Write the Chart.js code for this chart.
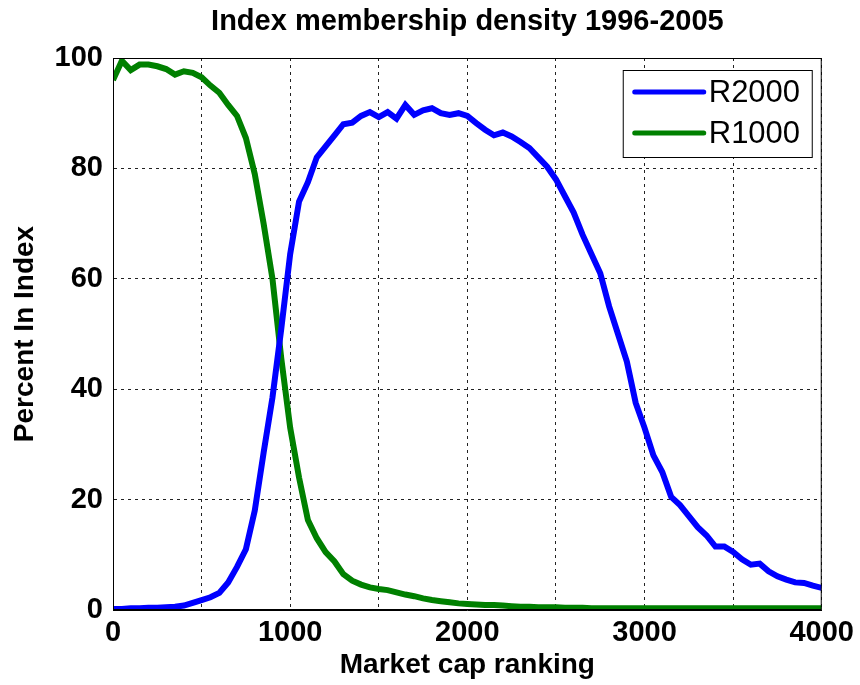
<!DOCTYPE html>
<html>
<head>
<meta charset="utf-8">
<title>Index membership density 1996-2005</title>
<script src="https://cdn.jsdelivr.net/npm/chart.js@4.4.1/dist/chart.umd.min.js"></script>
<style>
  body { margin: 0; background: #fff; }
  #wrap { width: 860px; height: 685px; }
</style>
</head>
<body>
<div id="wrap"><canvas id="density"></canvas></div>
<script>
// market cap rank (x), read every 50 ranks
const ranks = [
  0, 50, 100, 150, 200, 250, 300, 350, 400, 450,
  500, 550, 600, 650, 700, 750, 800, 850, 900, 950,
  1000, 1050, 1100, 1150, 1200, 1250, 1300, 1350, 1400, 1450,
  1500, 1550, 1600, 1650, 1700, 1750, 1800, 1850, 1900, 1950,
  2000, 2050, 2100, 2150, 2200, 2250, 2300, 2350, 2400, 2450,
  2500, 2550, 2600, 2650, 2700, 2750, 2800, 2850, 2900, 2950,
  3000, 3050, 3100, 3150, 3200, 3250, 3300, 3350, 3400, 3450,
  3500, 3550, 3600, 3650, 3700, 3750, 3800, 3850, 3900, 3950,
  4000
];
// percent of firms in the Russell 2000 at each rank
const r2000 = [
  0.2, 0.2, 0.3, 0.3, 0.4, 0.4, 0.5, 0.6, 0.8, 1.3,
  1.8, 2.3, 3.1, 5.0, 7.8, 11.0, 18.0, 28.5, 38.5, 51.0,
  64.5, 74.0, 77.5, 82.0, 84.0, 86.0, 88.0, 88.3, 89.5, 90.2,
  89.3, 90.2, 89.0, 91.5, 89.7, 90.5, 90.9, 90.0, 89.7, 90.0,
  89.5, 88.2, 87.0, 86.0, 86.5, 85.8, 84.8, 83.7, 82.0, 80.3,
  78.0, 75.0, 72.0, 68.0, 64.5, 61.0, 55.0, 50.0, 45.0, 37.5,
  33.0, 28.0, 25.0, 20.5, 19.0, 17.0, 15.0, 13.5, 11.5, 11.5,
  10.5, 9.2, 8.2, 8.4, 7.0, 6.1, 5.5, 5.0, 4.9, 4.4,
  4.0
];
// percent of firms in the Russell 1000 at each rank
const r1000 = [
  96.0, 99.5, 97.8, 98.8, 98.8, 98.5, 98.0, 97.0, 97.6, 97.3,
  96.5, 95.0, 93.7, 91.5, 89.5, 85.5, 79.0, 70.0, 60.0, 45.5,
  33.0, 24.0, 16.3, 13.0, 10.5, 8.8, 6.5, 5.3, 4.6, 4.1,
  3.8, 3.6, 3.2, 2.8, 2.5, 2.1, 1.8, 1.6, 1.4, 1.2,
  1.1, 1.0, 0.9, 0.9, 0.8, 0.7, 0.6, 0.6, 0.5, 0.5,
  0.5, 0.4, 0.4, 0.4, 0.3, 0.3, 0.3, 0.3, 0.3, 0.3,
  0.3, 0.3, 0.3, 0.3, 0.3, 0.3, 0.3, 0.3, 0.3, 0.3,
  0.3, 0.3, 0.3, 0.3, 0.3, 0.3, 0.3, 0.3, 0.3, 0.3,
  0.3
];
const seriesNames = ["R2000", "R1000"];
const seriesColors = ["#0000ff", "#008000"];

const FONT = "'Liberation Sans', Arial, sans-serif";

// black frame round the plot area, like a matlab axes box
const boxPlugin = {
  id: "box",
  afterDatasetsDraw(chart) {
    const a = chart.chartArea;
    const ctx = chart.ctx;
    ctx.save();
    ctx.strokeStyle = "#000";
    ctx.lineWidth = 1;
    ctx.strokeRect(a.left + 0.5, a.top + 0.5, a.right - a.left - 1, a.bottom - a.top - 1);
    ctx.restore();
  }
};

// legend box in the top right corner of the plot
const legendBoxPlugin = {
  id: "legendBox",
  afterDraw(chart) {
    const a = chart.chartArea;
    const ctx = chart.ctx;
    const x0 = a.right - 199, y0 = a.top + 12;
    ctx.save();
    ctx.fillStyle = "#fff";
    ctx.fillRect(x0, y0, 189, 87);
    ctx.strokeStyle = "#000";
    ctx.lineWidth = 1;
    ctx.strokeRect(x0 + 0.5, y0 + 0.5, 189, 87);
    ctx.font = "31px " + FONT;
    ctx.textBaseline = "middle";
    chart.data.datasets.forEach((ds, i) => {
      const y = y0 + 22 + i * 41;
      ctx.strokeStyle = ds.borderColor;
      ctx.lineWidth = 5;
      ctx.lineCap = "round";
      ctx.beginPath();
      ctx.moveTo(x0 + 12, y);
      ctx.lineTo(x0 + 81, y);
      ctx.stroke();
      ctx.fillStyle = "#000";
      ctx.fillText(ds.label, x0 + 86, y + 1);
    });
    ctx.restore();
  }
};

const ctx = document.getElementById("density");
new Chart(ctx, {
  type: "line",
  data: {
    datasets: [
      {
        label: seriesNames[0],
        data: ranks.map((r, i) => ({ x: r, y: r2000[i] })),
        borderColor: seriesColors[0],
        borderWidth: 6,
        pointRadius: 0,
        tension: 0,
      },
      {
        label: seriesNames[1],
        data: ranks.map((r, i) => ({ x: r, y: r1000[i] })),
        borderColor: seriesColors[1],
        borderWidth: 6,
        pointRadius: 0,
        tension: 0,
      },
    ],
  },
  options: {
    responsive: true,
    maintainAspectRatio: false,
    animation: false,
    layout: { padding: { left: 0, right: 37, top: 0, bottom: 0 } },
    plugins: {
      legend: { display: false },
      tooltip: { enabled: false },
      title: { display: false },
    },
    scales: {
      // top axis only carries the chart title, so it centres over the plot
      top: {
        type: "linear",
        position: "top",
        min: 0,
        max: 4000,
        afterFit(scale) { scale.height = 58; },
        ticks: { display: false },
        grid: { display: false },
        border: { display: false },
        title: {
          display: true,
          text: "Index membership density 1996-2005",
          color: "#000",
          font: { family: FONT, size: 29, weight: "bold" },
          padding: { top: 5, bottom: 0 },
        },
      },
      x: {
        type: "linear",
        min: 0,
        max: 4000,
        afterFit(scale) { scale.height = 75; },
        ticks: {
          stepSize: 500,
          autoSkip: false,
          maxRotation: 0,
          color: "#000",
          padding: 6,
          font: { family: FONT, size: 29, weight: "bold" },
          callback: (v) => (v % 1000 === 0 ? v : ""),
        },
        grid: { color: "#222", lineWidth: 1, drawTicks: false },
        border: { display: true, color: "#000", dash: [3, 4] },
        title: {
          display: true,
          text: "Market cap ranking",
          color: "#000",
          font: { family: FONT, size: 28, weight: "bold" },
          padding: { top: 0, bottom: 3 },
        },
      },
      y: {
        min: 0,
        max: 100,
        afterFit(scale) { scale.width = 113; },
        ticks: {
          stepSize: 20,
          color: "#000",
          padding: 10,
          font: { family: FONT, size: 29, weight: "bold" },
        },
        grid: { color: "#222", lineWidth: 1, drawTicks: false },
        border: { display: true, color: "#000", dash: [3, 4] },
        title: {
          display: true,
          text: "Percent In Index",
          color: "#000",
          font: { family: FONT, size: 28, weight: "bold" },
          padding: { top: 8, bottom: 0 },
        },
      },
    },
  },
  plugins: [boxPlugin, legendBoxPlugin],
});
</script>
</body>
</html>
